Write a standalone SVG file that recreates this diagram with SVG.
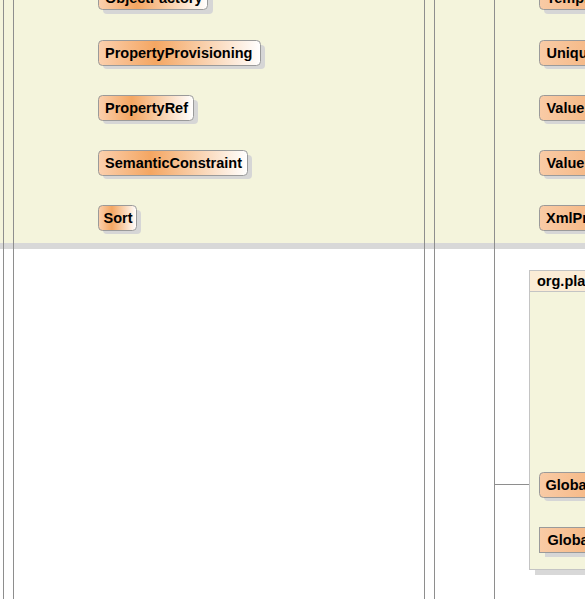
<svg xmlns="http://www.w3.org/2000/svg" width="585" height="599" viewBox="0 0 585 599">
<defs>
<linearGradient id="g" x1="0" y1="0" x2="1" y2="0">
<stop offset="0" stop-color="#fbd0ae"/>
<stop offset="0.35" stop-color="#f4a662"/>
<stop offset="1" stop-color="#ffffff"/>
</linearGradient>
<linearGradient id="gr" x1="0" y1="0" x2="1" y2="0">
<stop offset="0" stop-color="#f9cba6"/>
<stop offset="1" stop-color="#f1a05a"/>
</linearGradient>
<style>
.box{stroke:#9a9a9a;stroke-width:1}
.sh{fill:#d6d6d6}
.t{font-family:"Liberation Sans",Arial,sans-serif;font-weight:bold;font-size:14.5px;fill:#000}
.ln{stroke:#8e8e8e;stroke-width:1;fill:none}
</style>
</defs>
<rect x="0" y="0" width="585" height="599" fill="#ffffff"/>
<g id="panel">
<rect x="0" y="243" width="585" height="6" fill="#d8d8d8"/>
<rect x="0" y="0" width="585" height="243" fill="#f4f4dc"/>
</g>
<g id="connectors">
<line class="ln" x1="3.5" y1="0" x2="3.5" y2="599"/>
<line class="ln" x1="13.5" y1="0" x2="13.5" y2="599"/>
<line class="ln" x1="424.5" y1="0" x2="424.5" y2="599"/>
<line class="ln" x1="434.5" y1="0" x2="434.5" y2="599"/>
<line class="ln" x1="494.5" y1="0" x2="494.5" y2="599"/>
<line class="ln" x1="494.5" y1="484.5" x2="539.5" y2="484.5"/>
</g>
<g id="ObjectFactory">
<rect class="sh" x="103" y="-10" width="110" height="24" rx="4"/>
<rect class="box" x="98.5" y="-15.5" width="109" height="25" rx="4" fill="url(#g)"/>
<text class="t" x="105" y="2.5">ObjectFactory</text>
</g>
<g id="PropertyProvisioning">
<rect class="sh" x="103" y="45" width="162" height="24" rx="4"/>
<rect class="box" x="98.5" y="40.5" width="162" height="25" rx="4" fill="url(#g)"/>
<text class="t" x="105" y="57.5">PropertyProvisioning</text>
</g>
<g id="PropertyRef">
<rect class="sh" x="103" y="100" width="95" height="24" rx="4"/>
<rect class="box" x="98.5" y="95.5" width="95" height="25" rx="4" fill="url(#g)"/>
<text class="t" x="105" y="112.5">PropertyRef</text>
</g>
<g id="SemanticConstraint">
<rect class="sh" x="103" y="155" width="149" height="24" rx="4"/>
<rect class="box" x="98.5" y="150.5" width="149" height="25" rx="4" fill="url(#g)"/>
<text class="t" x="105" y="167.5">SemanticConstraint</text>
</g>
<g id="Sort">
<rect class="sh" x="103" y="210" width="38" height="24" rx="4"/>
<rect class="box" x="98.5" y="205.5" width="38" height="25" rx="4" fill="url(#g)"/>
<text class="t" x="103.5" y="222.5">Sort</text>
</g>
<g id="Tempi">
<rect class="sh" x="544" y="-10" width="120" height="24" rx="4"/>
<rect class="box" x="539.5" y="-15.5" width="120" height="25" rx="4" fill="url(#gr)"/>
<text class="t" x="546.5" y="2.5">Tempi</text>
</g>
<g id="Uniqu">
<rect class="sh" x="544" y="45" width="120" height="24" rx="4"/>
<rect class="box" x="539.5" y="40.5" width="120" height="25" rx="4" fill="url(#gr)"/>
<text class="t" x="546.5" y="57.5">Uniqu</text>
</g>
<g id="Value1">
<rect class="sh" x="544" y="100" width="120" height="24" rx="4"/>
<rect class="box" x="539.5" y="95.5" width="120" height="25" rx="4" fill="url(#gr)"/>
<text class="t" x="546.5" y="112.5">Value</text>
</g>
<g id="Value2">
<rect class="sh" x="544" y="155" width="120" height="24" rx="4"/>
<rect class="box" x="539.5" y="150.5" width="120" height="25" rx="4" fill="url(#gr)"/>
<text class="t" x="546.5" y="167.5">Value</text>
</g>
<g id="XmlPr">
<rect class="sh" x="544" y="210" width="120" height="24" rx="4"/>
<rect class="box" x="539.5" y="205.5" width="120" height="25" rx="4" fill="url(#gr)"/>
<text class="t" x="546" y="222.5">XmlPr</text>
</g>
<g id="package">
<rect x="535" y="276" width="120" height="299" fill="#d8d8d8"/>
<rect x="529.5" y="270.5" width="120" height="299" fill="#f4f4dc" stroke="#c4c4c4"/>
<rect x="529.5" y="270.5" width="120" height="21" fill="#fbecd6" stroke="#c4c4c4"/>
<text class="t" x="537" y="286">org.pla</text>
</g>
<g id="Globa1">
<rect class="sh" x="544" y="477" width="120" height="24" rx="4"/>
<rect class="box" x="539.5" y="472.5" width="120" height="25" rx="4" fill="url(#gr)"/>
<text class="t" x="545.5" y="489.5">Globa</text>
</g>
<g id="Globa2">
<rect class="sh" x="545" y="533" width="120" height="24"/>
<rect class="box" x="539.5" y="527.5" width="120" height="25" fill="url(#gr)"/>
<text class="t" x="547.5" y="544.5">Globa</text>
</g>
</svg>
